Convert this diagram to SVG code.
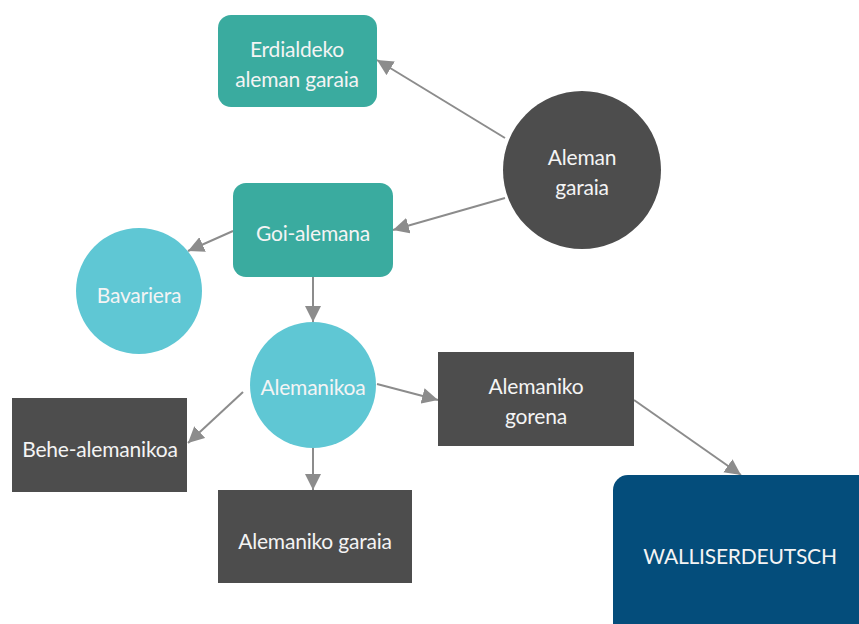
<svg xmlns="http://www.w3.org/2000/svg" width="859" height="624" viewBox="0 0 859 624">
<defs>
<style>
.t{font-family:Lato,"Open Sans","Liberation Sans",sans-serif;font-size:21px;letter-spacing:-0.2px;fill:#f4f4f4;text-anchor:middle;dominant-baseline:central}
.teal{fill:#3aab9f}
.light{fill:#5fc7d4}
.dark{fill:#4d4d4d}
.navy{fill:#044d7b}
.c{stroke:#8c8c8c;stroke-width:2;fill:none;marker-end:url(#ah)}
</style>
<marker id="ah" markerUnits="userSpaceOnUse" markerWidth="18" markerHeight="16" refX="16" refY="8" orient="auto">
<path d="M0,0 L16,8 L0,16 Z" fill="#8c8c8c"/>
</marker>
</defs>
<rect width="859" height="624" fill="#ffffff"/>
<g id="connectors">
<line class="c" x1="505" y1="138" x2="377" y2="60"/>
<line class="c" x1="505" y1="198" x2="393" y2="230"/>
<line class="c" x1="233" y1="231" x2="188" y2="251"/>
<line class="c" x1="313" y1="277" x2="313" y2="322"/>
<line class="c" x1="243" y1="392" x2="188" y2="443"/>
<line class="c" x1="377" y1="384" x2="438" y2="400"/>
<line class="c" x1="313" y1="447" x2="313" y2="490"/>
<line class="c" x1="634" y1="400" x2="741" y2="475"/>
</g>
<g id="erdialdeko">
<rect class="teal" x="218" y="15" width="159" height="92" rx="13"/>
<text class="t" x="297" y="48">Erdialdeko</text>
<text class="t" x="297" y="78">aleman garaia</text>
</g>
<g id="aleman-garaia">
<circle class="dark" cx="582" cy="170" r="79"/>
<text class="t" x="582" y="156">Aleman</text>
<text class="t" x="582" y="186">garaia</text>
</g>
<g id="goi-alemana">
<rect class="teal" x="233" y="183" width="160" height="94" rx="13"/>
<text class="t" x="313" y="232">Goi-alemana</text>
</g>
<g id="bavariera">
<circle class="light" cx="139" cy="291" r="63"/>
<text class="t" x="139" y="294">Bavariera</text>
</g>
<g id="alemanikoa">
<circle class="light" cx="313" cy="385" r="63"/>
<text class="t" x="313" y="386">Alemanikoa</text>
</g>
<g id="behe-alemanikoa">
<rect class="dark" x="12" y="398" width="175" height="94"/>
<text class="t" x="100" y="448">Behe-alemanikoa</text>
</g>
<g id="alemaniko-gorena">
<rect class="dark" x="438" y="352" width="196" height="94"/>
<text class="t" x="536" y="385">Alemaniko</text>
<text class="t" x="536" y="415">gorena</text>
</g>
<g id="alemaniko-garaia">
<rect class="dark" x="218" y="490" width="194" height="93"/>
<text class="t" x="315" y="540">Alemaniko garaia</text>
</g>
<g id="walliserdeutsch">
<rect class="navy" x="613" y="475" width="260" height="170" rx="15"/>
<text class="t" x="740" y="555">WALLISERDEUTSCH</text>
</g>
</svg>
